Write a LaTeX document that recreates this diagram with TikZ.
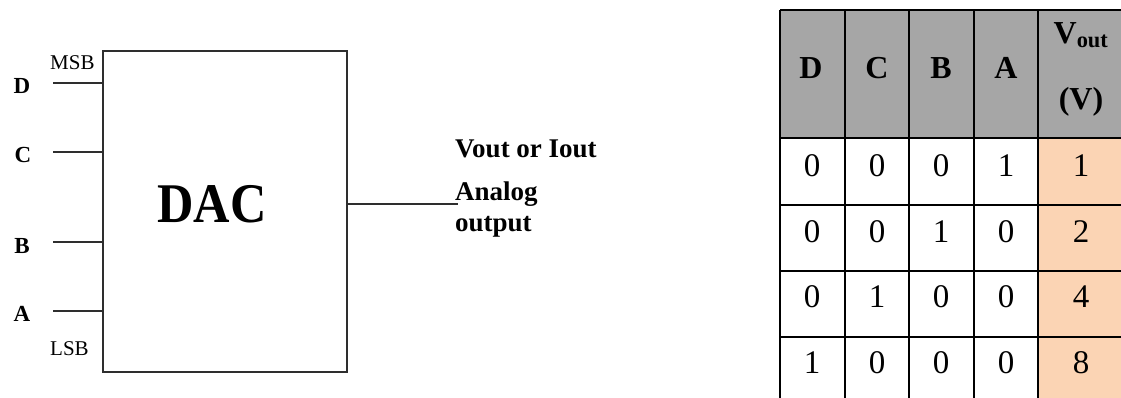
\documentclass[tikz,border=0pt]{standalone}
\usepackage{fontspec}
\setmainfont{Liberation Serif}
\definecolor{hdrgrey}{HTML}{A6A6A6}
\definecolor{peach}{HTML}{FBD4B4}
\definecolor{wire}{HTML}{2E2E2E}

\begin{document}
\begin{tikzpicture}[x=1pt,y=-1pt,
  wireline/.style={draw=wire,line width=1.4pt},
  pinlabel/.style={inner sep=0pt,font=\fontsize{23}{23}\selectfont\bfseries},
  sidenote/.style={inner sep=0pt,anchor=base west,font=\fontsize{21}{21}\selectfont},
  outtext/.style={inner sep=0pt,anchor=base west,font=\fontsize{27}{27}\selectfont\bfseries},
  gridline/.style={draw=black,line width=2.6pt},
  headcell/.style={inner sep=0pt,anchor=base,font=\fontsize{32}{32}\selectfont\bfseries},
  datacell/.style={inner sep=0pt,anchor=base,font=\fontsize{33}{33}\selectfont}]
\useasboundingbox (0,0) rectangle (1121,397);
\clip (0,0) rectangle (1121,397);

% ---------- DAC block ----------
\node[wireline,minimum width=244pt,minimum height=321pt,inner sep=0pt] (dac) at (225,211.5) {};
\node[inner sep=0pt,font=\fontsize{56}{56}\selectfont\bfseries] (dactxt) at (212,204) {\scalebox{0.9}[1]{DAC}};

% digital inputs
\coordinate (inD) at (53,83);
\coordinate (inC) at (53,152);
\coordinate (inB) at (53,242);
\coordinate (inA) at (53,311);
\foreach \p in {D,C,B,A}
  \draw[wireline] (in\p) -- (in\p -| dac.west);

\node[pinlabel] (lblD) at (22,85.5) {D};
\node[pinlabel] (lblC) at (23,154.5) {C};
\node[pinlabel] (lblB) at (22,245.5) {B};
\node[pinlabel] (lblA) at (22,313.5) {A};
\node[sidenote] (msb) at (50,69) {MSB};
\node[sidenote] (lsb) at (50,355) {LSB};

% analog output
\coordinate (outend) at (458,204);
\draw[wireline] (dac.east |- outend) -- (outend);
\node[outtext] (out1) at (455,157) {Vout or Iout};
\node[outtext] (out2) at (455,200) {Analog};
\node[outtext] (out3) at (455,231) {output};

% ---------- truth table ----------
\fill[hdrgrey] (780,10) rectangle (1124,138);
\fill[peach] (1038,138) rectangle (1124,403);
\foreach \x in {780,845,909,974,1038,1124}
  \draw[gridline] (\x,10) -- (\x,403);
\foreach \y in {10,138,205,271,337,403}
  \draw[gridline] (780,\y) -- (1124,\y);

\node[headcell] (hD) at (811,78) {D};
\node[headcell] (hC) at (877,78) {C};
\node[headcell] (hB) at (941,78) {B};
\node[headcell] (hA) at (1006,78) {A};
\node[headcell] (hV1) at (1081,43) {V\textsubscript{out}};
\node[headcell] (hV2) at (1081,109) {(V)};

\foreach \r/\yb/\d/\c/\b/\a/\v in {1/176/0/0/0/1/1, 2/242/0/0/1/0/2, 3/307/0/1/0/0/4, 4/373/1/0/0/0/8} {
  \node[datacell] (d\r) at (812,\yb) {\d};
  \node[datacell] (c\r) at (877,\yb) {\c};
  \node[datacell] (b\r) at (941,\yb) {\b};
  \node[datacell] (a\r) at (1006,\yb) {\a};
  \node[datacell] (v\r) at (1081,\yb) {\v};
}
\end{tikzpicture}
\end{document}
